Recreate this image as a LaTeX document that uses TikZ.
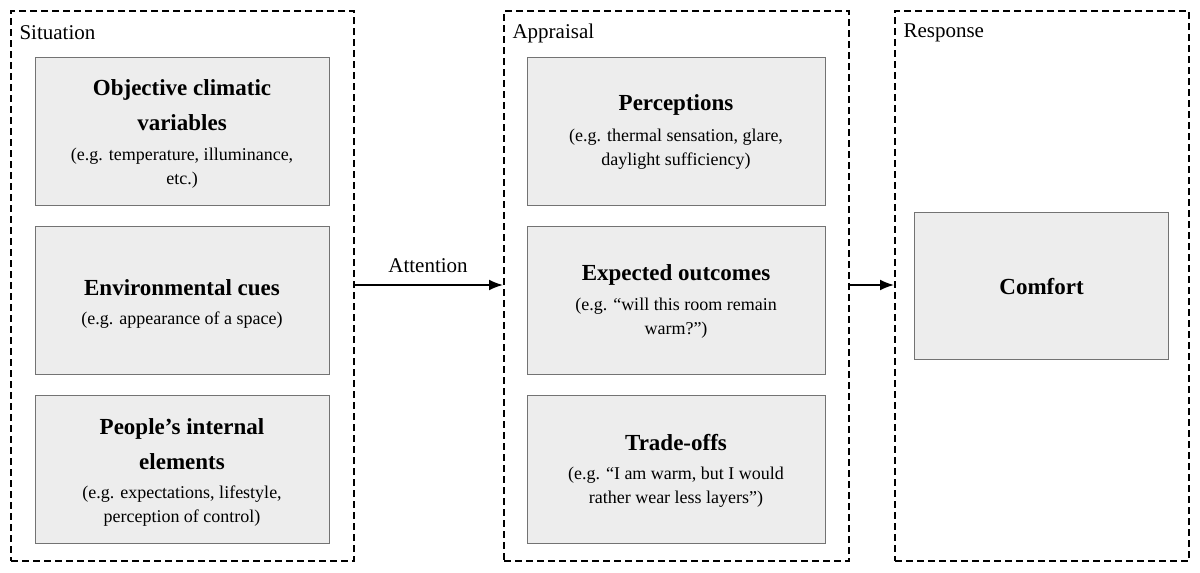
\documentclass[tikz,border=0pt]{standalone}
\usepackage{fontspec}
\setmainfont{Liberation Serif}
\usetikzlibrary{arrows.meta}
\begin{document}
\begin{tikzpicture}[x=1pt,y=-1pt,
 group/.style={draw,line width=2pt,dash pattern=on 7pt off 4pt,anchor=north west,inner sep=0pt},
 item/.style={draw=black!55,fill=black!7,line width=1.2pt,anchor=north west,inner sep=0pt},
 ttl/.style={align=center,inner sep=0pt,font=\fontsize{23}{35}\selectfont\bfseries},
 sub/.style={align=center,inner sep=0pt,font=\fontsize{18}{24}\selectfont},
 lab/.style={anchor=west,font=\fontsize{21}{24}\selectfont},
 arr/.style={-{Latex[length=14pt,width=11pt]},line width=1.8pt}]
\useasboundingbox (0,0) rectangle (1200,573);
\node[group,minimum width=343pt,minimum height=550pt] (g1) at (10,10) {};
\node[group,minimum width=345pt,minimum height=550pt] (g2) at (503,10) {};
\node[group,minimum width=294pt,minimum height=550pt] (g3) at (894,10) {};
\node[lab] (l1) at (16,33) {Situation};
\node[lab] (l2) at (509,33) {Appraisal};
\node[lab] (l3) at (900,33) {Response};
\node[item,minimum width=294pt,minimum height=148pt] (a1) at (35,57) {};
\node[item,minimum width=294pt,minimum height=148pt] (a2) at (35,226) {};
\node[item,minimum width=294pt,minimum height=148pt] (a3) at (35,395) {};
\node[item,minimum width=298pt,minimum height=148pt] (b1) at (527,57) {};
\node[item,minimum width=298pt,minimum height=148pt] (b2) at (527,226) {};
\node[item,minimum width=298pt,minimum height=148pt] (b3) at (527,395) {};
\node[item,minimum width=254pt,minimum height=147pt] (c1) at (914,212) {};
\node[ttl] (a1t) at (182,105) {Objective climatic\\variables};
\node[sub] (a1s) at (182,168) {(e.g. temperature, illuminance,\\etc.)};
\node[ttl] (a2t) at (182,288) {Environmental cues};
\node[sub] (a2s) at (182,320) {(e.g. appearance of a space)};
\node[ttl] (a3t) at (182,444) {People’s internal\\elements};
\node[sub] (a3s) at (182,506) {(e.g. expectations, lifestyle,\\perception of control)};
\node[ttl] (b1t) at (676,105) {Perceptions};
\node[sub] (b1s) at (676,149) {(e.g. thermal sensation, glare,\\daylight sufficiency)};
\node[ttl] (b2t) at (676,275) {Expected outcomes};
\node[sub] (b2s) at (676,318) {(e.g. “will this room remain\\warm?”)};
\node[ttl] (b3t) at (676,443) {Trade-offs};
\node[sub] (b3s) at (676,487) {(e.g. “I am warm, but I would\\rather wear less layers”)};
\node[ttl] (c1t) at (c1.center) {Comfort};
\coordinate (p1) at (353,285);
\coordinate (p2) at (503,285);
\coordinate (p3) at (848,285);
\coordinate (p4) at (894,285);
\draw[arr] (p1) -- (p2) node[midway,above=8pt,font=\fontsize{21}{24}\selectfont] (att) {Attention};
\draw[arr] (p3) -- (p4);
\end{tikzpicture}
\end{document}
